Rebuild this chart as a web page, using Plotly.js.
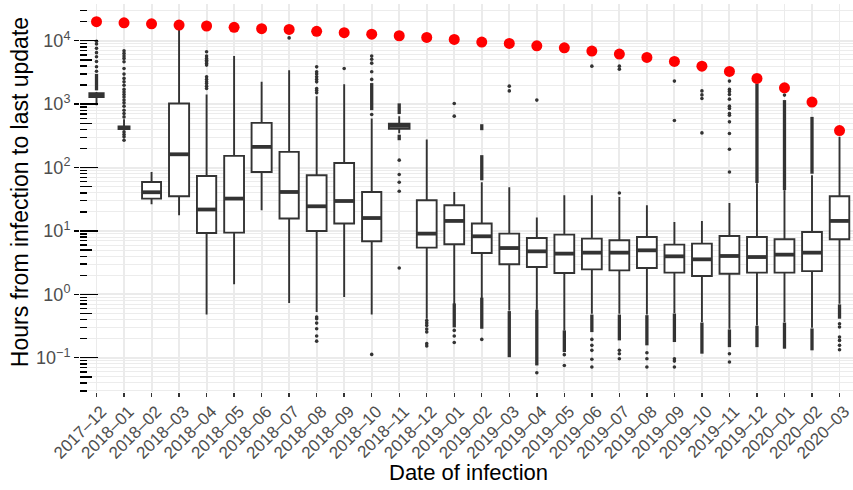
<!DOCTYPE html>
<html>
<head>
<meta charset="utf-8">
<script src="https://cdn.plot.ly/plotly-3.0.1.min.js"></script>
<style>
  html, body { margin: 0; padding: 0; background: #ffffff; }
  #chart { width: 853px; height: 490px; }
</style>
</head>
<body>
<div id="chart"></div>
<script>
// Month of infection (one box per month)
const months = ['2017–12','2018–01','2018–02','2018–03','2018–04','2018–05','2018–06',
  '2018–07','2018–08','2018–09','2018–10','2018–11','2018–12','2019–01','2019–02',
  '2019–03','2019–04','2019–05','2019–06','2019–07','2019–08','2019–09','2019–10',
  '2019–11','2019–12','2020–01','2020–02','2020–03'];

// Box statistics, hours from infection to last update
const lowerWhisker = [964, 390, 26.4, 17.7, 0.483, 1.44, 21.2, 0.73, 0.526, 0.907, 0.483, 348,
  0.413, 0.67, 0.855, 0.559, 0.573, 0.27, 0.495, 0.495, 0.483, 0.507, 0.365, 0.287, 0.324,
  0.365, 0.298, 0.713];
const q1 = [1290, 405, 32.4, 35.3, 9.29, 9.42, 85.3, 15.7, 9.97, 13.1, 6.87, 410,
  5.46, 6.16, 4.49, 2.98, 2.7, 2.17, 2.48, 2.39, 2.6, 2.2, 1.95, 2.12, 2.2,
  2.2, 2.33, 7.39];
const median = [1380, 423, 40.8, 162, 21.8, 32.4, 212, 41.2, 24.5, 29.7, 16.0, 455,
  9.08, 14.4, 8.24, 5.38, 4.77, 4.39, 4.55, 4.55, 4.95, 3.98, 3.57, 4.03, 3.88,
  4.23, 4.55, 14.4];
const q3 = [1490, 445, 59.3, 1026, 73.8, 153, 507, 177, 75.7, 118, 41.2, 492,
  30.5, 25.4, 13.1, 9.08, 7.74, 8.76, 7.57, 7.12, 8.03, 6.1, 6.31, 8.33, 8.03,
  7.39, 9.63, 35.3];
const upperWhisker = [1560, 580, 85, 16000, 1424, 5730, 2250, 3440, 1337, 2070, 594, 647,
  277, 41.2, 58.7, 49, 16.3, 36.6, 36.6, 34.4, 25.4, 13.9, 14.4, 27.7, 56.6,
  43.9, 75.7, 305];
// Relative box widths (varwidth)
const boxWidth = [0.52, 0.40, 0.69, 0.73, 0.70, 0.72, 0.73, 0.70, 0.72, 0.72, 0.70, 0.75,
  0.72, 0.72, 0.72, 0.72, 0.72, 0.72, 0.72, 0.72, 0.72, 0.72, 0.72, 0.72, 0.72,
  0.72, 0.72, 0.71];

// Longest possible delay per month (red points)
const maxPossible = [20000, 19200, 18500, 17700, 17100, 16300, 15500, 15100, 14100, 13400,
  12700, 12000, 11300, 10500, 9550, 9080, 8320, 7740, 6870, 6160, 5460, 4720, 3980,
  3280, 2550, 1810, 1080, 384];

// Individual outliers
const outlierMonth = [
  '2017–12','2017–12','2017–12','2017–12','2017–12','2017–12','2017–12','2017–12',
  '2018–01','2018–01','2018–01','2018–01','2018–01','2018–01','2018–01','2018–01','2018–01','2018–01',
  '2018–01','2018–01','2018–01','2018–01','2018–01','2018–01','2018–01','2018–01','2018–01','2018–01',
  '2018–01','2018–01','2018–01','2018–01',
  '2018–04','2018–04','2018–04','2018–04','2018–04','2018–04','2018–04','2018–04','2018–04','2018–04',
  '2018–04','2018–04','2018–04',
  '2018–07',
  '2018–08','2018–08','2018–08','2018–08','2018–08','2018–08','2018–08','2018–08','2018–08',
  '2018–08','2018–08','2018–08','2018–08','2018–08','2018–08',
  '2018–09',
  '2018–10','2018–10','2018–10','2018–10','2018–10','2018–10','2018–10',
  '2018–11','2018–11','2018–11','2018–11','2018–11',
  '2018–12','2018–12','2018–12','2018–12','2018–12','2018–12','2018–12',
  '2019–01','2019–01','2019–01','2019–01','2019–01',
  '2019–02',
  '2019–03','2019–03',
  '2019–04','2019–04',
  '2019–05','2019–05',
  '2019–06','2019–06','2019–06','2019–06','2019–06','2019–06',
  '2019–07','2019–07','2019–07','2019–07','2019–07','2019–07',
  '2019–08','2019–08','2019–08',
  '2019–09','2019–09','2019–09','2019–09','2019–09',
  '2019–10','2019–10','2019–10','2019–10',
  '2019–11','2019–11','2019–11','2019–11','2019–11','2019–11','2019–11','2019–11','2019–11',
  '2019–11','2019–11','2019–11','2019–11','2019–11','2019–11',
  '2020–01',
  '2020–03','2020–03','2020–03','2020–03','2020–03','2020–03'
];
const outlierHours = [
  9800, 8900, 7600, 6500, 5600, 4700, 3900, 3300,
  6950, 6320, 5730, 5270, 4660, 3660, 2980, 2550, 2250, 1990,
  1710, 1560, 1420, 1300, 1160, 1050, 930, 804, 713, 630,
  365, 333, 305, 270,
  6700, 5730, 5270, 4950, 4660, 4390, 4130, 2700, 2460, 2250,
  2120, 1925, 1770,
  11100,
  3880, 3240, 2980, 2700, 2460, 2250, 1760, 1650, 1510,
  0.438, 0.413, 0.352, 0.287, 0.22, 0.183,
  3660,
  5730, 5100, 4440, 3240, 2460, 688, 0.113,
  131, 77.6, 58.7, 42.3, 2.6,
  0.388, 0.355, 0.324, 0.285, 0.256, 0.167, 0.153,
  1026, 647, 0.27, 0.22, 0.174,
  0.195,
  1925, 1620,
  1160, 0.058,
  0.112, 0.0757,
  3980, 0.195, 0.157, 0.131, 0.0948, 0.0714,
  3980, 3570, 39.8, 0.131, 0.116, 0.0967,
  0.12, 0.0967, 0.0714,
  2310, 553, 0.0967, 0.0886, 0.0714,
  1620, 1400, 1230, 352,
  2310, 1710, 1590, 1420, 1200, 930, 855, 713, 670,
  526, 345, 195, 85.3, 0.116, 0.0857,
  1390,
  0.344, 0.305, 0.212, 0.188, 0.157, 0.134
];

// Dense runs of outliers that merge into solid columns
const runMonth = ['2017–12','2018–10','2018–11','2018–11','2019–01','2019–02','2019–02','2019–02',
  '2019–03','2019–04','2019–05','2019–06','2019–07','2019–08','2019–09','2019–10','2019–11',
  '2019–12','2019–12','2020–01','2020–01','2020–02','2020–02','2020–03'];
const runLow = [1650, 804, 700, 270, 0.301, 63, 389, 0.287,
  0.102, 0.0757, 0.123, 0.254, 0.188, 0.157, 0.177, 0.116, 0.147,
  57, 0.147, 44, 0.139, 80, 0.131, 0.413];
const runHigh = [3000, 2150, 1030, 330, 0.72, 157, 483, 0.887,
  0.545, 0.573, 0.27, 0.48, 0.48, 0.47, 0.5, 0.36, 0.28,
  2120, 0.32, 1160, 0.36, 630, 0.29, 0.695];

// Axis labels
const yTickVals = [0.1, 1, 10, 100, 1000, 10000];
const yTickText = ['10<sup>−1</sup>', '10<sup>0</sup>', '10<sup>1</sup>', '10<sup>2</sup>',
  '10<sup>3</sup>', '10<sup>4</sup>'];
const xTitle = 'Date of infection';
const yTitle = 'Hours from infection to last update';

const INK = '#333333';
const GRID = '#ebebeb';
const pos = months.map((_, i) => i);
const idx = m => months.indexOf(m);

const traces = [];

// solid outlier columns
const rx = [], ry = [];
runMonth.forEach((m, k) => { rx.push(idx(m), idx(m), null); ry.push(runLow[k], runHigh[k], null); });
traces.push({ type: 'scatter', mode: 'lines', x: rx, y: ry,
  line: { color: INK, width: 3.3 }, hoverinfo: 'skip', showlegend: false });

// individual outliers
traces.push({ type: 'scatter', mode: 'markers', x: outlierMonth.map(idx), y: outlierHours,
  marker: { color: INK, size: 3.6, line: { width: 0 } }, hoverinfo: 'skip', showlegend: false });

// boxes from precomputed statistics
pos.forEach(i => {
  traces.push({
    type: 'box', orientation: 'v', x: [i],
    q1: [q1[i]], median: [median[i]], q3: [q3[i]],
    lowerfence: [lowerWhisker[i]], upperfence: [upperWhisker[i]],
    width: boxWidth[i], whiskerwidth: 0, boxpoints: false,
    fillcolor: '#ffffff', line: { color: INK, width: 1.9 },
    hoverinfo: 'skip', showlegend: false
  });
});

// thick median bars
const mx = [], my = [];
pos.forEach(i => { mx.push(i - boxWidth[i] / 2, i + boxWidth[i] / 2, null); my.push(median[i], median[i], null); });
traces.push({ type: 'scatter', mode: 'lines', x: mx, y: my,
  line: { color: INK, width: 3.8 }, hoverinfo: 'skip', showlegend: false });

// maximum possible delay
traces.push({ type: 'scatter', mode: 'markers', x: pos, y: maxPossible,
  marker: { color: '#ff0000', size: 11, line: { width: 0 } }, hoverinfo: 'skip', showlegend: false });

// hidden anchors so the log-tick rug axes get drawn
['y2', 'y3'].forEach(ax => traces.push({ type: 'scatter', mode: 'markers', x: [0], y: [1], yaxis: ax,
  marker: { opacity: 0, size: 1 }, hoverinfo: 'skip', showlegend: false }));

// log-tick positions for the left rug
const decades = [], fives = [], minorVals = [];
for (let e = -2; e <= 4; e++) {
  decades.push(Math.pow(10, e));
  fives.push(5 * Math.pow(10, e));
  for (let k = 2; k <= 9; k++) minorVals.push(k * Math.pow(10, e));
}
const yRange = [-1.54, 4.58];
const baseFont = 'Liberation Sans, Arial, Helvetica, sans-serif';

const layout = {
  width: 853, height: 490,
  margin: { l: 80, r: 0, t: 4, b: 98 },
  paper_bgcolor: '#ffffff', plot_bgcolor: '#ffffff',
  showlegend: false, boxmode: 'overlay',
  font: { family: baseFont, color: '#000000' },
  xaxis: {
    range: [-0.6, 27.49], tickmode: 'array', tickvals: pos, ticktext: months,
    tickangle: -45, ticks: 'outside', ticklen: 4, tickwidth: 1.4, tickcolor: INK,
    tickfont: { size: 17, color: '#4d4d4d' }, ticklabelshift: 5, ticklabelstandoff: -2,
    ticklabeloverflow: 'allow',
    showgrid: true, gridcolor: GRID, gridwidth: 1.9, zeroline: false, showline: false
  },
  yaxis: {
    type: 'log', range: yRange, tickmode: 'array', tickvals: yTickVals, ticktext: yTickText,
    ticks: 'outside', ticklen: 5, tickwidth: 1.4, tickcolor: '#000000',
    tickfont: { size: 18, color: '#4d4d4d' },
    showgrid: true, gridcolor: GRID, gridwidth: 1.9, zeroline: false, showline: false,
    minor: { tickmode: 'array', tickvals: minorVals, showgrid: true, gridcolor: GRID, gridwidth: 0.95, ticks: '' }
  },
  yaxis2: {
    type: 'log', range: yRange, overlaying: 'y', side: 'left', anchor: 'x',
    tickmode: 'array', tickvals: decades, ticks: 'inside', ticklen: 18, tickwidth: 1.4,
    tickcolor: '#000000', showticklabels: false, showgrid: false, zeroline: false, showline: false,
    minor: { tickmode: 'array', tickvals: minorVals, ticks: 'inside', ticklen: 7, tickwidth: 1.4,
      tickcolor: '#000000', showgrid: false }
  },
  yaxis3: {
    type: 'log', range: yRange, overlaying: 'y', side: 'left', anchor: 'x',
    tickmode: 'array', tickvals: fives, ticks: 'inside', ticklen: 12, tickwidth: 1.4,
    tickcolor: '#000000', showticklabels: false, showgrid: false, zeroline: false, showline: false
  },
  annotations: [
    { text: xTitle, xref: 'paper', yref: 'paper', x: 0.502, y: -0.207,
      xanchor: 'center', yanchor: 'middle', showarrow: false,
      font: { size: 22, color: '#000000' } },
    { text: yTitle, xref: 'paper', yref: 'paper', x: -0.0776, y: 0.515,
      xanchor: 'center', yanchor: 'middle', textangle: -90, showarrow: false,
      font: { size: 23, color: '#000000' } }
  ]
};

Plotly.newPlot('chart', traces, layout, { displayModeBar: false, staticPlot: true });
</script>
</body>
</html>
